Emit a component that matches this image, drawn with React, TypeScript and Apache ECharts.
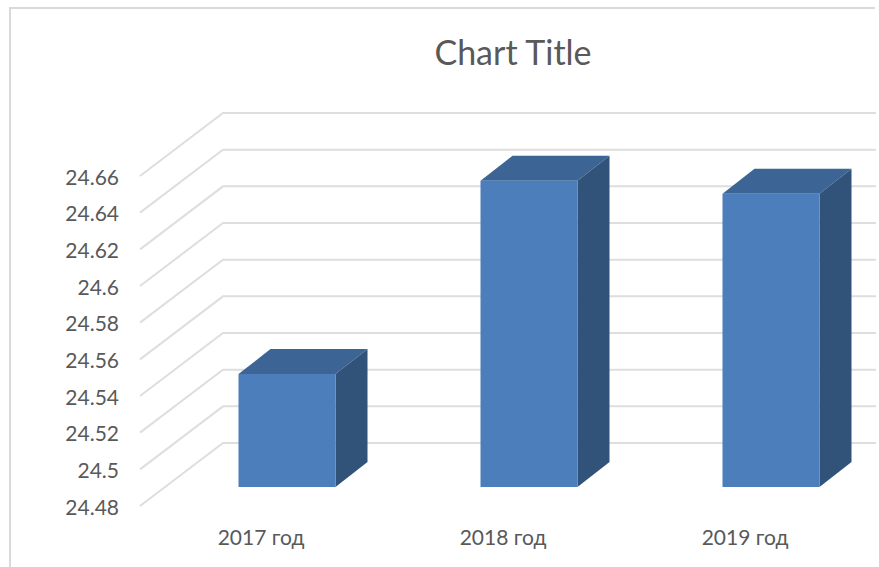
import React, { useEffect, useRef } from "react";
import * as echarts from "echarts";

const titleText = "Chart Title";
const categories = ["2017 год", "2018 год", "2019 год"];
const barValues = [24.5416, 24.647, 24.64];
const gridTicks = [24.48, 24.5, 24.52, 24.54, 24.56, 24.58, 24.6, 24.62, 24.64, 24.66];
const axisMin = 24.48;
const axisMax = 24.66;
const axisStep = 0.02;

const FONT = "Lato, 'Open Sans', sans-serif";
const TEXT = "#595959";
const GRID = "#dedede";
const FRONT = "#4d7ebc";
const TOP = "#3c6494";
const SIDE = "#325379";

export default function App() {
  const ref = useRef<HTMLDivElement>(null);

  useEffect(() => {
    const chart = echarts.init(ref.current!, null, { renderer: "svg" });
    chart.setOption({
      animation: false,
      backgroundColor: "#ffffff",
      textStyle: { fontFamily: FONT },
      title: {
        text: titleText,
        left: 508,
        top: 29,
        textAlign: "center",
        textStyle: { fontFamily: FONT, fontSize: 34, fontWeight: "normal", color: TEXT },
      },
      grid: { left: 140, top: 176, width: 726, height: 330, containLabel: false },
      xAxis: {
        type: "category",
        data: categories,
        axisLine: { show: false },
        axisTick: { show: false },
        splitLine: { show: false },
        axisLabel: { color: TEXT, fontSize: 21, fontFamily: FONT, margin: 20 },
      },
      yAxis: {
        type: "value",
        min: axisMin,
        max: axisMax,
        interval: axisStep,
        axisLine: { show: false },
        axisTick: { show: false },
        splitLine: { show: false },
        axisLabel: {
          color: TEXT,
          fontSize: 21,
          fontFamily: FONT,
          margin: 21,
          formatter: (v: number) => String(parseFloat(v.toFixed(2))),
        },
      },
      graphic: [
        { type: "line", silent: true, shape: { x1: 10, y1: 8, x2: 10, y2: 567 }, style: { stroke: "#d9d9d9", lineWidth: 2 } },
        { type: "line", silent: true, shape: { x1: 9, y1: 8, x2: 875, y2: 8 }, style: { stroke: "#d9d9d9", lineWidth: 2 } },
      ],
      series: [
        {
          type: "custom",
          silent: true,
          clip: false,
          z: 1,
          data: gridTicks,
          encode: { y: 0 },
          renderItem: (params: any, api: any) => {
            const y = api.coord([0, api.value(0)])[1];
            const x0 = params.coordSys.x;
            return {
              type: "polyline",
              shape: { points: [[x0, y], [x0 + 83, y - 63], [876, y - 63]] },
              style: { stroke: GRID, lineWidth: 2, fill: "none" },
            };
          },
        },
        {
          type: "custom",
          silent: true,
          clip: false,
          z: 2,
          data: barValues.map((v, i) => [i, v]),
          encode: { x: 0, y: 1 },
          renderItem: (_params: any, api: any) => {
            const [cx, top] = api.coord([api.value(0), api.value(1)]);
            const base = api.coord([api.value(0), axisMin])[1];
            const ox = 26, oy = -19, hw = 48.5, dx = 32, dy = -25;
            const l = cx + ox - hw, r = cx + ox + hw, t = top + oy, b = base + oy;
            return {
              type: "group",
              children: [
                { type: "polygon", shape: { points: [[l, t], [r, t], [r + dx, t + dy], [l + dx, t + dy]] }, style: { fill: TOP } },
                { type: "polygon", shape: { points: [[r, t], [r + dx, t + dy], [r + dx, b + dy], [r, b]] }, style: { fill: SIDE } },
                { type: "polygon", shape: { points: [[l, t], [r, t], [r, b], [l, b]] }, style: { fill: FRONT } },
              ],
            };
          },
        },
      ],
    });
    return () => chart.dispose();
  }, []);

  return <div ref={ref} style={{ position: "absolute", left: 0, top: 0, width: 879, height: 567 }} />;
}
